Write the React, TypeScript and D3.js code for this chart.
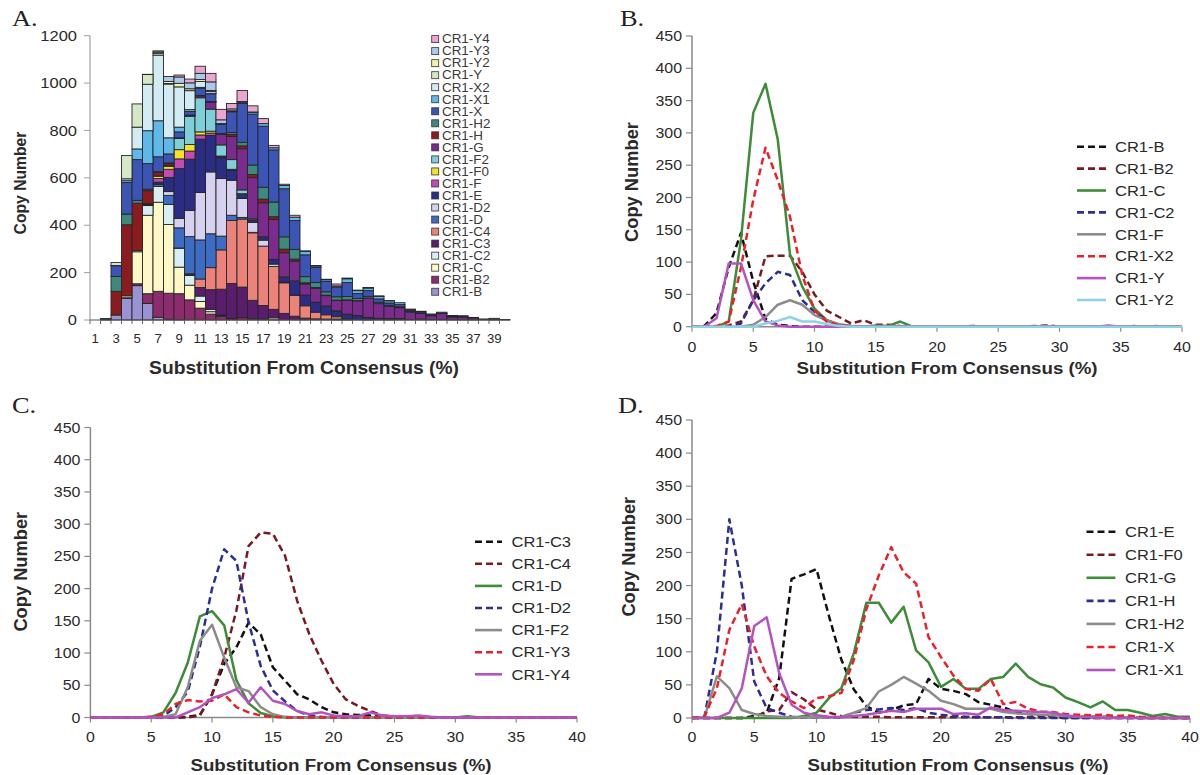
import React from 'react';
import * as d3 from 'd3';

// substitution from consensus (%) for the line panels
const substitution = [0,1,2,3,4,5,6,7,8,9,10,11,12,13,14,15,16,17,18,19,20,21,22,23,24,25,26,27,28,29,30,31,32,33,34,35,36,37,38,39,40];
const binLabels = [1,3,5,7,9,11,13,15,17,19,21,23,25,27,29,31,33,35,37,39];
const copyTicksA = [0,200,400,600,800,1000,1200];
const copyTicks = [0,50,100,150,200,250,300,350,400,450];
const subTicks = [0,5,10,15,20,25,30,35,40];

// copy numbers per subfamily, index = substitution %
const crB  = [0,1,21,92,145,70,12,3,1,0,0,0,0,0,0,0,0,0,0,0,0,0,0,1,0,0,0,0,0,0,0,0,0,0,0,0,1,0,0,0,0];
const crB2 = [0,0,0,2,8,41,109,110,110,85,50,25,15,5,10,3,3,1,0,0,0,0,0,0,0,0,0,0,1,2,0,0,0,0,0,0,0,0,1,0,0];
const crC  = [0,0,0,8,135,331,376,290,112,62,28,10,3,1,0,2,1,8,0,0,0,0,0,0,0,0,0,0,0,0,0,0,0,0,0,0,0,0,0,0,0];
const crC2 = [0,0,0,0,5,41,67,85,80,41,23,10,3,1,0,0,0,0,0,0,0,0,0,0,0,0,0,0,0,0,0,0,0,0,0,0,0,0,0,0,0];
const crF  = [0,0,0,0,0,3,15,34,41,34,18,10,4,1,0,0,0,0,0,0,0,0,0,0,0,0,0,0,0,0,0,0,0,0,0,0,0,0,0,0,0];
const crX2 = [0,0,1,8,92,196,277,227,170,80,25,8,2,1,0,0,0,0,0,0,0,0,0,0,0,0,0,0,0,0,0,0,0,0,0,0,0,0,0,0,0];
const crY  = [0,0,13,98,98,41,8,2,0,0,0,0,0,0,0,0,0,0,0,0,0,0,0,0,0,0,0,0,0,0,0,0,0,0,2,0,0,0,0,0,0];
const crY2 = [0,0,0,0,0,0,5,9,15,8,8,4,1,0,0,0,0,0,0,0,0,0,0,0,0,0,0,0,0,0,0,0,0,0,0,0,0,0,0,0,0];

const crC3 = [0,0,0,0,0,0,0,0,1,4,36,83,109,147,129,78,57,36,28,16,8,5,4,3,1,0,0,0,0,0,0,0,0,0,0,0,0,0,0,0,0];
const crC4 = [0,0,0,0,0,0,0,0,0,3,36,93,166,266,287,285,251,181,129,88,52,28,18,10,3,2,1,0,0,0,0,0,0,0,0,0,0,0,0,0,0];
const crD  = [0,0,0,0,0,1,8,38,85,157,165,143,58,22,7,2,0,0,0,0,0,0,0,0,0,0,0,0,0,0,0,2,0,0,0,0,0,0,0,0,0];
const crD2 = [0,0,0,0,0,0,2,16,40,110,200,261,243,148,80,42,25,10,3,1,0,0,0,0,0,0,0,0,0,0,0,0,0,0,0,0,0,0,0,0,0];
const crF2 = [0,0,0,0,0,0,1,5,47,119,144,93,47,41,16,5,1,0,0,0,0,0,0,0,0,0,0,0,0,0,0,0,0,0,0,0,0,0,0,0,0];
const crY3 = [0,0,0,0,0,1,5,21,27,25,26,36,16,8,3,1,0,0,0,0,0,0,0,0,0,0,0,0,0,0,0,0,0,0,0,0,0,0,0,0,0];
const crY4 = [0,0,0,0,0,0,0,0,8,16,30,36,44,23,47,26,21,10,5,8,3,2,2,8,3,2,2,3,1,0,0,0,0,0,0,0,0,0,0,0,0];

const crE  = [0,0,0,0,0,3,8,60,210,217,225,154,88,43,18,8,12,19,21,59,44,41,36,24,20,16,9,6,4,3,2,2,2,2,1,1,0,0,0,0,0];
const crF0 = [0,0,0,0,0,1,10,12,39,28,13,8,3,2,2,2,1,1,1,1,1,1,1,1,1,1,1,1,1,1,0,0,0,0,0,0,0,0,0,0,0];
const crG  = [0,0,0,0,0,0,0,0,0,3,8,30,45,98,174,174,144,168,102,84,47,59,44,44,59,62,82,62,51,46,31,24,16,25,12,12,8,3,6,2,2];
const crH  = [0,2,100,300,200,55,15,8,2,1,1,1,1,8,12,13,15,12,15,8,5,3,2,1,1,1,0,0,0,0,0,0,0,0,0,0,0,0,0,0,0];
const crH2 = [0,1,63,45,12,6,3,2,1,1,1,1,2,8,15,40,50,62,52,41,26,21,14,14,14,9,7,6,5,4,3,2,2,1,1,1,0,0,0,0,0];
const crX  = [0,2,45,133,172,108,63,38,25,15,30,33,38,88,164,215,258,220,203,122,92,64,44,41,59,21,24,14,10,9,6,5,4,5,3,4,2,1,0,0,0];
const crX1 = [0,0,0,8,45,139,152,68,20,8,4,2,1,3,5,8,11,9,14,14,14,6,7,5,16,12,11,10,9,8,4,2,1,0,0,0,0,0,0,0,0];

const seriesByName: Record<string, number[]> = {
  'CR1-B': crB, 'CR1-B2': crB2, 'CR1-C': crC, 'CR1-C2': crC2, 'CR1-C3': crC3, 'CR1-C4': crC4,
  'CR1-D': crD, 'CR1-D2': crD2, 'CR1-E': crE, 'CR1-F': crF, 'CR1-F0': crF0, 'CR1-F2': crF2,
  'CR1-G': crG, 'CR1-H': crH, 'CR1-H2': crH2, 'CR1-X': crX, 'CR1-X1': crX1, 'CR1-X2': crX2,
  'CR1-Y': crY, 'CR1-Y2': crY2, 'CR1-Y3': crY3, 'CR1-Y4': crY4,
};

const stackOrder = ['CR1-B','CR1-B2','CR1-C','CR1-C2','CR1-C3','CR1-C4','CR1-D','CR1-D2','CR1-E','CR1-F','CR1-F0','CR1-F2','CR1-G','CR1-H','CR1-H2','CR1-X','CR1-X1','CR1-X2','CR1-Y','CR1-Y2','CR1-Y3','CR1-Y4'];
const panelBNames = ['CR1-B','CR1-B2','CR1-C','CR1-C2','CR1-F','CR1-X2','CR1-Y','CR1-Y2'];
const panelCNames = ['CR1-C3','CR1-C4','CR1-D','CR1-D2','CR1-F2','CR1-Y3','CR1-Y4'];
const panelDNames = ['CR1-E','CR1-F0','CR1-G','CR1-H','CR1-H2','CR1-X','CR1-X1'];

const barColors: Record<string, string> = {
  'CR1-B': '#9a93d3', 'CR1-B2': '#8c2c6c', 'CR1-C': '#fdf8c6', 'CR1-C2': '#d8eef2',
  'CR1-C3': '#5a1d6c', 'CR1-C4': '#ec837a', 'CR1-D': '#3c6cc4', 'CR1-D2': '#d5d1ee',
  'CR1-E': '#2b2c84', 'CR1-F': '#c44bb5', 'CR1-F0': '#f3e326', 'CR1-F2': '#7fcfd8',
  'CR1-G': '#7a2b8c', 'CR1-H': '#8a1b1f', 'CR1-H2': '#3d8a7c', 'CR1-X': '#3c55b4',
  'CR1-X1': '#5eb9e9', 'CR1-X2': '#d3ecf3', 'CR1-Y': '#d4e8c6', 'CR1-Y2': '#f3f0a8',
  'CR1-Y3': '#aac9ec', 'CR1-Y4': '#eba6cf',
};

// line look by position inside a panel's legend
const lineStyles = [
  { color: '#111111', dash: '7,4' },
  { color: '#7a1a20', dash: '7,4' },
  { color: '#3e8b38', dash: '' },
  { color: '#2b2f8f', dash: '7,4' },
  { color: '#8c8c8c', dash: '' },
  { color: '#e8212b', dash: '7,4' },
  { color: '#b452c0', dash: '' },
  { color: '#8fd2e6', dash: '' },
];

const SANS = '"Liberation Sans", Arial, sans-serif';
const SERIF = '"Liberation Serif", "Times New Roman", serif';
const SX = 1.1;

function Txt(props: { x: number; y: number; size: number; anchor?: string; weight?: string; fill?: string; family?: string; vertical?: boolean; children: React.ReactNode }) {
  const { x, y, size, anchor = 'start', weight = 'normal', fill = '#2a2a2a', family = SANS, vertical = false } = props;
  const tr = vertical ? `translate(${x},${y}) rotate(-90)` : `translate(${x},${y}) scale(${SX},1)`;
  return (
    <text transform={tr} dy={size * 0.35} fontSize={size} fontFamily={family} fontWeight={weight} textAnchor={anchor} fill={fill}>
      {props.children}
    </text>
  );
}

function StackedPanel() {
  const bins = substitution.slice(0, 40).map((s) => s + 1);
  const rows = bins.map((b, i) => {
    const r: Record<string, number> = { bin: b };
    stackOrder.forEach((k) => { r[k] = seriesByName[k][i]; });
    return r;
  });
  const stacked = d3.stack<Record<string, number>>().keys(stackOrder)(rows);
  const x = d3.scaleBand<number>().domain(bins).range([90, 510]);
  const y = d3.scaleLinear().domain([0, 1200]).range([320, 35.7]);

  return (
    <g>
      <Txt x={12} y={18} size={24} family={SERIF} fill="#222">A.</Txt>
      {stacked.map((layer) => (
        <g key={layer.key} fill={barColors[layer.key]}>
          {layer.map((d, i) => (d[1] - d[0] > 0 ? (
            <rect key={i} x={x(bins[i])!} y={y(d[1])} width={x.bandwidth()} height={y(d[0]) - y(d[1])} stroke="#262626" strokeWidth={0.9} />
          ) : null))}
        </g>
      ))}
      <line x1={90} x2={90} y1={35.7} y2={320} stroke="#a0a0a0" strokeWidth={1.2} />
      <line x1={90} x2={510} y1={320} y2={320} stroke="#555" strokeWidth={1.2} />
      {copyTicksA.map((t) => (
        <g key={t}>
          <line x1={84} x2={90} y1={y(t)} y2={y(t)} stroke="#a0a0a0" />
          <Txt x={77} y={y(t)} size={15} anchor="end">{t}</Txt>
        </g>
      ))}
      {bins.map((b) => (
        <line key={b} x1={x(b)!} x2={x(b)!} y1={320} y2={324} stroke="#666" />
      ))}
      {binLabels.map((b) => (
        <Txt key={b} x={x(b)! + x.bandwidth() / 2} y={339} size={12} anchor="middle">{b}</Txt>
      ))}
      <Txt x={304} y={368} size={17.5} weight="bold" anchor="middle">Substitution From Consensus (%)</Txt>
      <Txt x={20} y={183} size={15.7} weight="bold" anchor="middle" vertical>Copy Number</Txt>
      {stackOrder.slice().reverse().map((k, i) => (
        <g key={k}>
          <rect x={431.7} y={39.1 + i * 12.03 - 3.5} width={7} height={7} fill={barColors[k]} stroke="#333" strokeWidth={0.8} />
          <Txt x={442} y={39.1 + i * 12.03} size={12.2} fill="#3a3a3a">{k}</Txt>
        </g>
      ))}
    </g>
  );
}

type LineCfg = {
  letter: string; names: string[];
  x0: number; x1: number; yb: number; yt: number;
  letterPos: [number, number]; yTitle: [number, number]; xTitle: [number, number]; tickY: number;
  legX0: number; legX1: number; legText: number; legY: number; legStep: number;
};

function LinePanel({ c }: { c: LineCfg }) {
  const x = d3.scaleLinear().domain([0, 40]).range([c.x0, c.x1]);
  const y = d3.scaleLinear().domain([0, 450]).range([c.yb, c.yt]);
  const line = d3.line<number>().x((_, i) => x(substitution[i])).y((d) => y(d));
  return (
    <g>
      <Txt x={c.letterPos[0]} y={c.letterPos[1]} size={24} family={SERIF} fill="#222">{c.letter}</Txt>
      <line x1={c.x0} x2={c.x0} y1={c.yt} y2={c.yb} stroke="#8a8a8a" strokeWidth={1.5} />
      <line x1={c.x0} x2={c.x1} y1={c.yb} y2={c.yb} stroke="#8a8a8a" strokeWidth={1.5} />
      {copyTicks.map((t) => (
        <g key={t}>
          <line x1={c.x0 - 6} x2={c.x0} y1={y(t)} y2={y(t)} stroke="#8a8a8a" strokeWidth={1.2} />
          <Txt x={c.x0 - 10} y={y(t)} size={14.5} anchor="end">{t}</Txt>
        </g>
      ))}
      {subTicks.map((t) => (
        <g key={t}>
          <line x1={x(t)} x2={x(t)} y1={c.yb} y2={c.yb + 5} stroke="#8a8a8a" strokeWidth={1.2} />
          <Txt x={x(t)} y={c.tickY} size={14.5} anchor="middle">{t}</Txt>
        </g>
      ))}
      {c.names.map((n, i) => (
        <path key={n} d={line(seriesByName[n]) || ''} fill="none" stroke={lineStyles[i].color}
          strokeDasharray={lineStyles[i].dash || undefined} strokeWidth={2.5} strokeLinejoin="round" />
      ))}
      {c.names.map((n, i) => (
        <g key={n}>
          <line x1={c.legX0} x2={c.legX1} y1={c.legY + i * c.legStep} y2={c.legY + i * c.legStep}
            stroke={lineStyles[i].color} strokeWidth={2.6} strokeDasharray={lineStyles[i].dash || undefined} />
          <Txt x={c.legText} y={c.legY + i * c.legStep} size={15}>{n}</Txt>
        </g>
      ))}
      <Txt x={c.xTitle[0]} y={c.xTitle[1]} size={17} weight="bold" anchor="middle">Substitution From Consensus (%)</Txt>
      <Txt x={c.yTitle[0]} y={c.yTitle[1]} size={18.3} weight="bold" anchor="middle" vertical>Copy Number</Txt>
    </g>
  );
}

const cfgB: LineCfg = {
  letter: 'B.', names: panelBNames, x0: 692, x1: 1182, yb: 326.7, yt: 36,
  letterPos: [620, 18], yTitle: [632, 182], xTitle: [947, 368], tickY: 346.7,
  legX0: 1077, legX1: 1106, legText: 1115, legY: 146.7, legStep: 21.9,
};
const cfgC: LineCfg = {
  letter: 'C.', names: panelCNames, x0: 90.4, x1: 577, yb: 717.5, yt: 427.5,
  letterPos: [12, 405], yTitle: [21, 571.7], xTitle: [341, 765], tickY: 736.7,
  legX0: 475, legX1: 502, legText: 511.5, legY: 541.7, legStep: 22.1,
};
const cfgD: LineCfg = {
  letter: 'D.', names: panelDNames, x0: 692, x1: 1190, yb: 718, yt: 420,
  letterPos: [618, 405], yTitle: [629, 556.7], xTitle: [958, 765], tickY: 736.7,
  legX0: 1086.5, legX1: 1115.4, legText: 1125, legY: 531.7, legStep: 23.05,
};

export default function App() {
  return (
    <svg width={1200} height={775} style={{ position: 'absolute', left: 0, top: 0, background: '#fff' }}>
      <StackedPanel />
      <LinePanel c={cfgB} />
      <LinePanel c={cfgC} />
      <LinePanel c={cfgD} />
    </svg>
  );
}
